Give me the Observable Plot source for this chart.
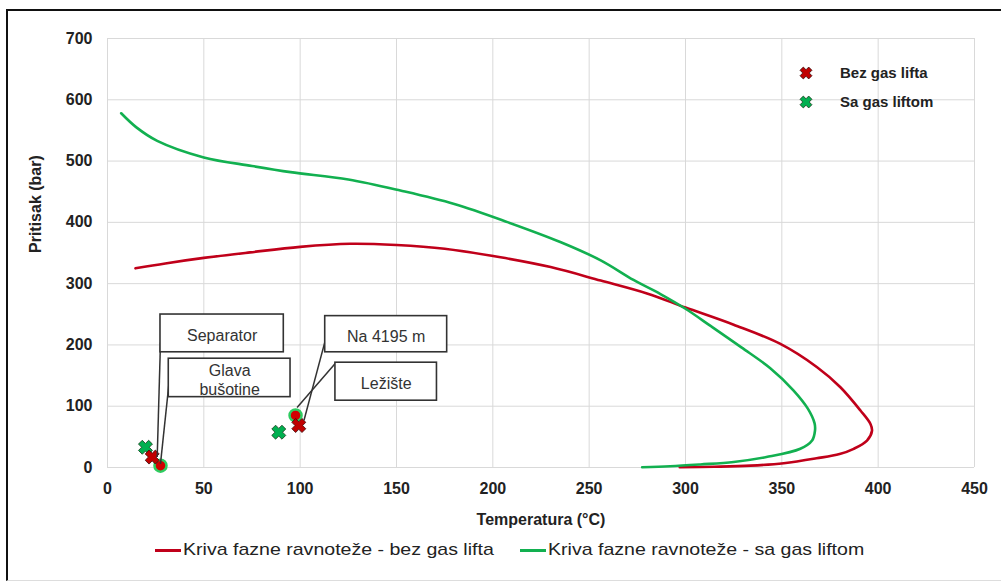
<!DOCTYPE html>
<html>
<head>
<meta charset="utf-8">
<script src="https://cdn.jsdelivr.net/npm/d3@7"></script>
<script src="https://cdn.jsdelivr.net/npm/@observablehq/plot@0.6"></script>
<style>
  html, body { margin: 0; padding: 0; background: #fff; }
  #wrap { position: relative; width: 1001px; height: 584px; overflow: hidden; font-family: "Liberation Sans", Arial, sans-serif; }
  #frame { position: absolute; left: 6px; top: 9px; width: 1000px; height: 572px; border-top: 2px solid #111; border-left: 2px solid #111; border-bottom: 1px solid #ddd; box-sizing: border-box; }
  #chart { position: absolute; left: 0; top: 0; }
  .leg { position: absolute; display: flex; align-items: center; color: #222; white-space: nowrap; }
  .legTop { font-size: 15px; font-weight: bold; }
  .legBot { font-size: 17px; }
  .legBot .txt { display: inline-block; transform: scaleX(1.15); transform-origin: left center; }
  .swatch { display: inline-block; width: 26px; height: 3px; margin-right: 2px; }
</style>
</head>
<body>
<div id="wrap">
  <div id="frame"></div>
  <div id="chart"></div>
</div>
<script>
// ---- data ----
const xTicks = [0, 50, 100, 150, 200, 250, 300, 350, 400, 450];
const yTicks = [0, 100, 200, 300, 400, 500, 600, 700];

// Phase envelope without gas lift (T °C, P bar), ordered along the curve
const redT = [14.5, 30, 50, 74, 100, 126, 150, 175, 204, 230, 256, 280, 300, 325, 349, 368.3, 380.4, 390.8, 396, 396.8, 394.2, 387.3, 380, 368, 351, 333.7, 315, 297];
const redP = [325, 333, 342, 351, 360, 365, 363, 357, 343, 327, 305, 284, 261, 233, 202, 163.6, 131, 93, 71, 60, 44, 30.5, 22, 15, 7, 3, 1.3, 0.5];

// Phase envelope with gas lift
const greenT = [7.1, 15, 25.8, 50, 75, 95, 125, 152, 180, 208, 235, 256, 273, 287, 300, 313, 329, 344, 356, 363.5, 367, 367.2, 365.7, 359.6, 342, 325, 307.7, 292, 277.5];
const greenP = [578, 555, 533, 506, 492, 482, 470, 452, 430, 400, 368, 338, 306, 283, 259, 231, 196, 162, 126, 96, 72, 60, 44, 30.5, 17, 9, 5, 2, 0.5];

// Markers
const bezT = [23.2, 99.3], bezP = [17, 68.5];      // Bez gas lifta (red X)
const saT = [19.7, 88.9], saP = [33, 57.6];        // Sa gas liftom (green X)
const circT = [27.5, 97.6], circP = [3, 85];       // points (red with green ring)

// Annotations (box extents in data units, leader from -> to)
const annText = ["Separator", "Glava\nbušotine", "Na 4195 m", "Ležište"];
const annX1 = [27.5, 31.8, 113, 118.3], annX2 = [91.5, 95, 176.3, 171];
const annY1 = [188, 114.8, 188, 109], annY2 = [249.6, 177.5, 247, 171];
const leadX1 = [27.5, 31.8, 113, 118.3], leadY1 = [204, 134, 207, 170];
const leadX2 = [25.8, 27.5, 102, 98.4], leadY2 = [17, 6, 77, 98];

// ---- build tables ----
const redData = redT.map((t, i) => ({T: t, P: redP[i]}));
const greenData = greenT.map((t, i) => ({T: t, P: greenP[i]}));
const bez = bezT.map((t, i) => ({T: t, P: bezP[i]}));
const sa = saT.map((t, i) => ({T: t, P: saP[i]}));
const circ = circT.map((t, i) => ({T: t, P: circP[i]}));
const ann = annText.map((s, i) => ({s, x1: annX1[i], x2: annX2[i], y1: annY1[i], y2: annY2[i],
  lx1: leadX1[i], ly1: leadY1[i], lx2: leadX2[i], ly2: leadY2[i]}));

const RED = "#c00000", GREEN = "#00b050", REDLINE = "#c0001a", GREENLINE = "#12b050";

// thick X symbol
const xSymbol = {
  draw(context, size) {
    const a = 7.2, w = 2.7;
    const pts = [[w,a],[w,w],[a,w],[a,-w],[w,-w],[w,-a],[-w,-a],[-w,-w],[-a,-w],[-a,w],[-w,w],[-w,a]]
      .map(([x, y]) => [(x - y) / Math.SQRT2, (x + y) / Math.SQRT2]);
    context.moveTo(pts[0][0], pts[0][1]);
    for (let i = 1; i < pts.length; i++) context.lineTo(pts[i][0], pts[i][1]);
    context.closePath();
  }
};

const chart = Plot.plot({
  width: 1001,
  height: 540,
  marginLeft: 107,
  marginRight: 27,
  marginTop: 38,
  marginBottom: 73,
  x: {domain: [0, 450]},
  y: {domain: [0, 700]},
  style: {fontFamily: "'Liberation Sans', Arial, sans-serif", fontSize: "16px", fontWeight: "bold", color: "#222", background: "transparent"},
  marks: [
    Plot.gridX(xTicks, {stroke: "#d9d9d9", strokeOpacity: 1, strokeWidth: 1}),
    Plot.gridY(yTicks, {stroke: "#d9d9d9", strokeOpacity: 1, strokeWidth: 1}),
    Plot.axisX(xTicks, {tickSize: 0, tickPadding: 15, label: null, fontSize: 16, fontWeight: "bold"}),
    Plot.axisY(yTicks, {tickSize: 0, tickPadding: 15, label: null, fontSize: 16, fontWeight: "bold"}),
    Plot.text(["Temperatura (°C)"], {frameAnchor: "bottom", lineAnchor: "middle", dy: 52, fontSize: 16, fontWeight: "bold", fill: "#222"}),
    Plot.text(["Pritisak (bar)"], {frameAnchor: "left", dx: -72, rotate: -90, fontSize: 16, fontWeight: "bold", fill: "#222"}),
    Plot.line(redData, {x: "T", y: "P", stroke: REDLINE, strokeWidth: 2.6, curve: "catmull-rom"}),
    Plot.line(greenData, {x: "T", y: "P", stroke: GREENLINE, strokeWidth: 2.6, curve: "catmull-rom"}),
    Plot.dot(sa, {x: "T", y: "P", symbol: xSymbol, r: 6, fill: GREEN, stroke: "#1a3a1a", strokeWidth: 0.8}),
    Plot.dot(circ, {x: "T", y: "P", r: 6, fill: "#d10000", stroke: "#2ecc60", strokeWidth: 2.5}),
    Plot.dot(bez, {x: "T", y: "P", symbol: xSymbol, r: 6, fill: RED, stroke: "#3a0a0a", strokeWidth: 0.8}),
    Plot.link(ann, {x1: "lx1", y1: "ly1", x2: "lx2", y2: "ly2", stroke: "#333", strokeWidth: 1.5}),
    Plot.rect(ann, {x1: "x1", x2: "x2", y1: "y1", y2: "y2", fill: "#fff", stroke: "#333", strokeWidth: 1.6}),
    Plot.text(ann, {x: d => (d.x1 + d.x2) / 2, y: d => (d.y1 + d.y2) / 2, dy: 1.5, text: "s", fontSize: 16, fontWeight: "normal", fill: "#333", lineHeight: 1.15})
  ]
});
document.getElementById("chart").appendChild(chart);

// legends (HTML)
function xIcon(fill, stroke) {
  const s = 16, c = s / 2, a = 7.2 * 0.85, w = 2.7 * 0.85;
  const pts = [[w,a],[w,w],[a,w],[a,-w],[w,-w],[w,-a],[-w,-a],[-w,-w],[-a,-w],[-a,w],[-w,w],[-w,a]]
    .map(([x, y]) => [c + (x - y) / Math.SQRT2, c + (x + y) / Math.SQRT2].join(",")).join(" ");
  return `<svg width="${s}" height="${s}"><polygon points="${pts}" fill="${fill}" stroke="${stroke}" stroke-width="0.8"/></svg>`;
}
const wrap = document.getElementById("wrap");
const topLeg = [["Bez gas lifta", RED, "#3a0a0a", 64], ["Sa gas liftom", GREEN, "#1a3a1a", 93]];
topLeg.forEach(([lab, f, s, y]) => {
  const d = document.createElement("div");
  d.className = "leg legTop";
  d.style.left = "798px"; d.style.top = y + "px";
  d.innerHTML = xIcon(f, s) + `<span style="margin-left:26px">${lab}</span>`;
  wrap.appendChild(d);
});
const botLeg = [["Kriva fazne ravnoteže - bez gas lifta", REDLINE, 155], ["Kriva fazne ravnoteže - sa gas liftom", GREENLINE, 520]];
botLeg.forEach(([lab, col, x]) => {
  const d = document.createElement("div");
  d.className = "leg legBot";
  d.style.left = x + "px"; d.style.top = "540px";
  d.innerHTML = `<span class="swatch" style="background:${col}"></span><span class="txt">${lab}</span>`;
  wrap.appendChild(d);
});
</script>
</body>
</html>
